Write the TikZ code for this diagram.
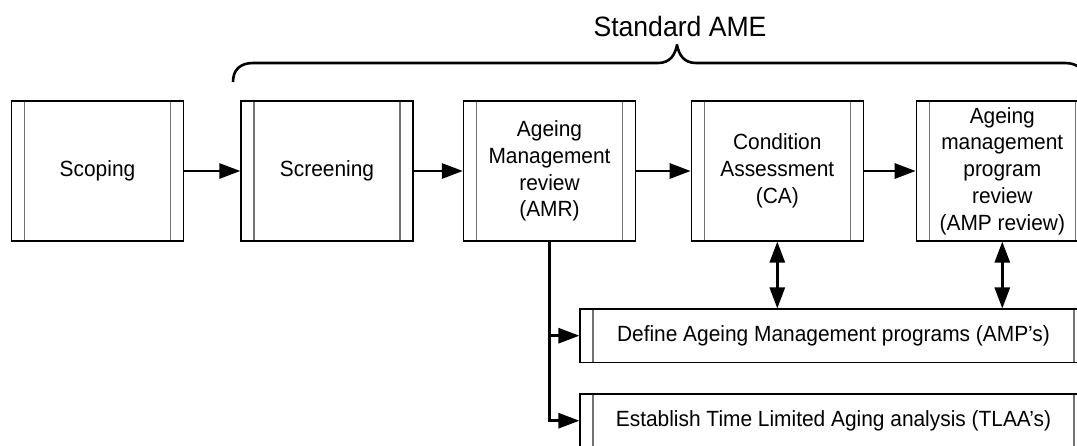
\documentclass[tikz,border=0pt]{standalone}
\usepackage{fontspec}
\setmainfont{Liberation Sans}[FakeStretch=0.95]
\usetikzlibrary{arrows.meta}
\begin{document}
\begin{tikzpicture}[x=1pt,y=-1pt,
  proc/.style={draw=black, line width=1.2pt, minimum width=172pt, minimum height=140pt,
    inner sep=0pt, align=center, font=\fontsize{22}{26.7}\selectfont,
    path picture={\draw[black!55,line width=1.2pt]
      ([xshift=13pt]path picture bounding box.north west) -- ([xshift=13pt]path picture bounding box.south west)
      ([xshift=-13pt]path picture bounding box.north east) -- ([xshift=-13pt]path picture bounding box.south east);}},
  wide/.style={proc, minimum width=507pt, minimum height=53.3pt},
  arr/.style={line width=2.8pt, -{Triangle[length=21pt,width=15pt]}},
  darr/.style={line width=2.8pt, {Triangle[length=21pt,width=15pt]}-{Triangle[length=21pt,width=15pt]}},
  bracestyle/.style={line width=2.6pt, line join=round},
]
\useasboundingbox (0,0) rectangle (1077,445);
\clip (0,0) rectangle (1077,445);

\node[proc] (scoping) at (97.5,171) {Scoping};
\node[proc] (screening) at (327,171) {Screening};
\node[proc] (amr) at (549.5,171) {Ageing\\Management\\review\\(AMR)};
\node[proc] (ca) at (777.3,171) {Condition\\Assessment\\(CA)};
\node[proc] (amp) at (1002.3,171) {Ageing\\management\\program\\review\\(AMP review)};
\node[wide] (define) at (833.5,335.7) {Define Ageing Management programs (AMP’s)};
\node[wide] (tlaa) at (833.5,420.7) {Establish Time Limited Aging analysis (TLAA’s)};

\node[font=\fontsize{28}{32}\selectfont, anchor=base] (title) at (680,36.7) {Standard AME};

\draw[bracestyle] (233,82) .. controls (233,70) and (240,63) .. (253,63) -- (658,63)
  .. controls (670,63) and (675,55) .. (677,45)
  .. controls (679,55) and (684,63) .. (696,63) -- (1065,63)
  .. controls (1078,63) and (1085,70) .. (1085,82);

\draw[arr] (scoping) -- (screening);
\draw[arr] (screening) -- (amr);
\draw[arr] (amr) -- (ca);
\draw[arr] (ca) -- (amp);
\draw[arr] (amr.south) |- (define.west);
\draw[arr] (amr.south) |- (tlaa.west);
\draw[darr] (ca.south) -- (ca.south |- define.north);
\draw[darr] (amp.south) -- (amp.south |- define.north);
\end{tikzpicture}
\end{document}
